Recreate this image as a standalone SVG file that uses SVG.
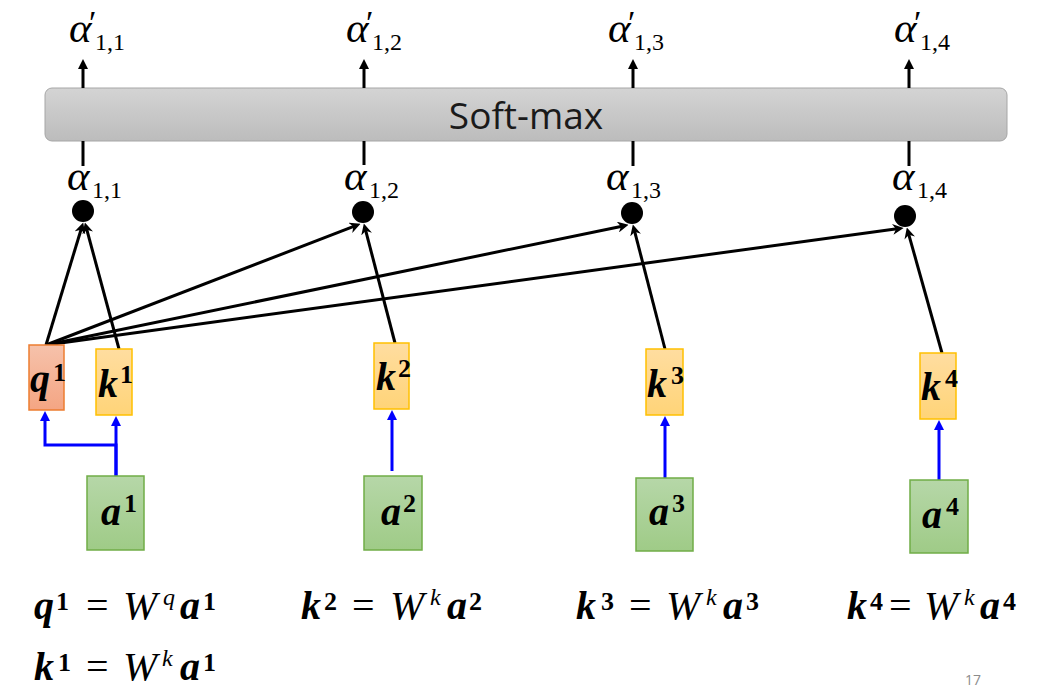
<svg xmlns="http://www.w3.org/2000/svg" width="1038" height="699" viewBox="0 0 1038 699">
<style>
.m{font-family:"Liberation Serif","DejaVu Serif",serif;fill:#000}
.bi{font-weight:bold;font-style:italic}
.it{font-style:italic}
.b{font-weight:bold}
.blk{stroke:#000;stroke-width:3;fill:none}
.blu{stroke:#0000ff;stroke-width:3;fill:none}
.qbox{fill:url(#gq);stroke:#ed7d31;stroke-width:1.5}
.kbox{fill:url(#gk);stroke:#ffc000;stroke-width:1.5}
.abox{fill:url(#ga);stroke:#70ad47;stroke-width:1.5}
.al{font-size:43px;font-style:italic}
.pr{font-size:34px}
.sb{font-size:24px}
.bl{font-size:40px;font-weight:bold;font-style:italic}
.bs{font-size:26px;font-weight:bold}
</style>
<defs>
<linearGradient id="gs" x1="0" y1="0" x2="0" y2="1"><stop offset="0" stop-color="#d4d4d4"/><stop offset="1" stop-color="#bcbcbc"/></linearGradient>
<linearGradient id="gq" x1="0" y1="0" x2="0" y2="1"><stop offset="0" stop-color="#f6c2ab"/><stop offset="1" stop-color="#f4a583"/></linearGradient>
<linearGradient id="gk" x1="0" y1="0" x2="0" y2="1"><stop offset="0" stop-color="#ffdda0"/><stop offset="1" stop-color="#ffd478"/></linearGradient>
<linearGradient id="ga" x1="0" y1="0" x2="0" y2="1"><stop offset="0" stop-color="#b6d7a8"/><stop offset="1" stop-color="#9fcb87"/></linearGradient>
<marker id="ak" viewBox="0 0 10 10" refX="4" refY="5" markerWidth="11" markerHeight="11" markerUnits="userSpaceOnUse" orient="auto"><path d="M0,0 L10,5 L0,10 L3,5 Z" fill="#000"/></marker>
<marker id="at" viewBox="0 0 10 10" refX="3" refY="5" markerWidth="10" markerHeight="10" markerUnits="userSpaceOnUse" orient="auto"><path d="M0,0 L10,5 L0,10 Z" fill="#000"/></marker>
<marker id="ab" viewBox="0 0 10 10" refX="3" refY="5" markerWidth="10" markerHeight="10" markerUnits="userSpaceOnUse" orient="auto"><path d="M0,0 L10,5 L0,10 Z" fill="#0000ff"/></marker>
</defs>

<g id="softmax">
<rect x="45" y="88" width="962" height="53" rx="7" fill="url(#gs)" stroke="#a6a6a6" stroke-width="1"/>
<text x="526" y="129" text-anchor="middle" font-family="Open Sans, Liberation Sans, sans-serif" font-size="37" fill="#1a1a1a">Soft-max</text>
</g>

<g id="connectors">
<line class="blk" x1="83" y1="88" x2="83" y2="66" marker-end="url(#at)"/>
<line class="blk" x1="364" y1="88" x2="364" y2="66" marker-end="url(#at)"/>
<line class="blk" x1="633" y1="88" x2="633" y2="66" marker-end="url(#at)"/>
<line class="blk" x1="909" y1="88" x2="909" y2="66" marker-end="url(#at)"/>
<line class="blk" x1="83" y1="141" x2="83" y2="166"/>
<line class="blk" x1="364" y1="141" x2="364" y2="165"/>
<line class="blk" x1="633" y1="141" x2="633" y2="166"/>
<line class="blk" x1="909" y1="141" x2="909" y2="166"/>
<line class="blk" x1="46" y1="345" x2="81.3" y2="228.7" marker-end="url(#ak)"/>
<line class="blk" x1="119" y1="349" x2="86.6" y2="228.8" marker-end="url(#ak)"/>
<line class="blk" x1="46" y1="345" x2="354.4" y2="226.2" marker-end="url(#ak)"/>
<line class="blk" x1="46" y1="345" x2="622.1" y2="226.2" marker-end="url(#ak)"/>
<line class="blk" x1="46" y1="345" x2="897.1" y2="228.8" marker-end="url(#ak)"/>
<line class="blk" x1="395" y1="343" x2="365.5" y2="229.8" marker-end="url(#ak)"/>
<line class="blk" x1="665" y1="349" x2="634.5" y2="230.8" marker-end="url(#ak)"/>
<line class="blk" x1="942" y1="353" x2="908.6" y2="233.8" marker-end="url(#ak)"/>
<path class="blu" d="M116,477 V445 H45 V418" marker-end="url(#ab)"/>
<line class="blu" x1="116" y1="477" x2="116" y2="423" marker-end="url(#ab)"/>
<line class="blu" x1="392" y1="471" x2="392" y2="417" marker-end="url(#ab)"/>
<line class="blu" x1="665" y1="478" x2="665" y2="423" marker-end="url(#ab)"/>
<line class="blu" x1="939" y1="484" x2="939" y2="427" marker-end="url(#ab)"/>
</g>

<g id="alpha-prime">
<text class="m" y="42"><tspan class="al" x="69">α</tspan><tspan class="pr" x="89" y="34">′</tspan><tspan class="sb" x="95" y="50">1,1</tspan></text>
<text class="m" y="42"><tspan class="al" x="346">α</tspan><tspan class="pr" x="366" y="34">′</tspan><tspan class="sb" x="372" y="50">1,2</tspan></text>
<text class="m" y="42"><tspan class="al" x="608">α</tspan><tspan class="pr" x="628" y="34">′</tspan><tspan class="sb" x="634" y="50">1,3</tspan></text>
<text class="m" y="42"><tspan class="al" x="894">α</tspan><tspan class="pr" x="914" y="34">′</tspan><tspan class="sb" x="920" y="50">1,4</tspan></text>
</g>

<g id="alpha">
<text class="m" y="190"><tspan class="al" x="67">α</tspan><tspan class="sb" x="92" y="198">1,1</tspan></text>
<text class="m" y="190"><tspan class="al" x="344">α</tspan><tspan class="sb" x="369" y="198">1,2</tspan></text>
<text class="m" y="190"><tspan class="al" x="606">α</tspan><tspan class="sb" x="631" y="198">1,3</tspan></text>
<text class="m" y="190"><tspan class="al" x="892">α</tspan><tspan class="sb" x="917" y="198">1,4</tspan></text>
</g>

<g id="dots">
<circle cx="83" cy="211" r="11"/>
<circle cx="363" cy="212" r="11"/>
<circle cx="632" cy="213" r="11"/>
<circle cx="905" cy="216" r="11"/>
</g>

<g id="q1"><rect class="qbox" x="29" y="345" width="35" height="65"/><text class="m" y="392"><tspan class="bl" x="30">q</tspan><tspan class="bs" x="53" y="381">1</tspan></text></g>
<g id="k1"><rect class="kbox" x="96" y="349" width="36" height="66"/><text class="m" y="397"><tspan class="bl" x="98">k</tspan><tspan class="bs" x="120" y="383">1</tspan></text></g>
<g id="k2"><rect class="kbox" x="374" y="343" width="35" height="66"/><text class="m" y="390"><tspan class="bl" x="376">k</tspan><tspan class="bs" x="398" y="377">2</tspan></text></g>
<g id="k3"><rect class="kbox" x="646" y="349" width="37" height="66"/><text class="m" y="397"><tspan class="bl" x="647">k</tspan><tspan class="bs" x="671" y="384">3</tspan></text></g>
<g id="k4"><rect class="kbox" x="920" y="353" width="36" height="66"/><text class="m" y="400"><tspan class="bl" x="921">k</tspan><tspan class="bs" x="945" y="387">4</tspan></text></g>

<g id="a1"><rect class="abox" x="87" y="476" width="57" height="74"/><text class="m" y="525"><tspan class="bl" x="101">a</tspan><tspan class="bs" x="124" y="512">1</tspan></text></g>
<g id="a2"><rect class="abox" x="364" y="476" width="58" height="74"/><text class="m" y="525"><tspan class="bl" x="381">a</tspan><tspan class="bs" x="403" y="512">2</tspan></text></g>
<g id="a3"><rect class="abox" x="636" y="478" width="57" height="73"/><text class="m" y="525"><tspan class="bl" x="649">a</tspan><tspan class="bs" x="672" y="512">3</tspan></text></g>
<g id="a4"><rect class="abox" x="910" y="480" width="58" height="73"/><text class="m" y="528"><tspan class="bl" x="922">a</tspan><tspan class="bs" x="946" y="515">4</tspan></text></g>

<g id="formulas">
<text class="m" y="619"><tspan class="bl" x="34">q</tspan><tspan class="bs" x="56" y="610">1</tspan><tspan x="86" y="619" font-size="40">=</tspan><tspan class="it" x="123" font-size="41">W</tspan><tspan class="it" x="163" y="605" font-size="24">q</tspan><tspan class="bl" x="180" y="619">a</tspan><tspan class="bs" x="203" y="610">1</tspan></text>
<text class="m" y="680"><tspan class="bl" x="34">k</tspan><tspan class="bs" x="58" y="671">1</tspan><tspan x="86" y="680" font-size="40">=</tspan><tspan class="it" x="123" font-size="41">W</tspan><tspan class="it" x="162" y="666" font-size="24">k</tspan><tspan class="bl" x="180" y="680">a</tspan><tspan class="bs" x="203" y="671">1</tspan></text>
<text class="m" y="619"><tspan class="bl" x="301">k</tspan><tspan class="bs" x="324" y="610">2</tspan><tspan x="352" y="619" font-size="40">=</tspan><tspan class="it" x="390" font-size="41">W</tspan><tspan class="it" x="430" y="605" font-size="24">k</tspan><tspan class="bl" x="447" y="619">a</tspan><tspan class="bs" x="469" y="610">2</tspan></text>
<text class="m" y="619"><tspan class="bl" x="576">k</tspan><tspan class="bs" x="601" y="610">3</tspan><tspan x="629" y="619" font-size="40">=</tspan><tspan class="it" x="666" font-size="41">W</tspan><tspan class="it" x="706" y="605" font-size="24">k</tspan><tspan class="bl" x="723" y="619">a</tspan><tspan class="bs" x="746" y="610">3</tspan></text>
<text class="m" y="619"><tspan class="bl" x="847">k</tspan><tspan class="bs" x="870" y="610">4</tspan><tspan x="889" y="619" font-size="40">=</tspan><tspan class="it" x="924" font-size="41">W</tspan><tspan class="it" x="964" y="605" font-size="24">k</tspan><tspan class="bl" x="980" y="619">a</tspan><tspan class="bs" x="1003" y="610">4</tspan></text>
</g>

<text id="page" x="965" y="685" font-family="Open Sans, Liberation Sans, sans-serif" font-size="14" fill="#8c8c8c">17</text>
</svg>
